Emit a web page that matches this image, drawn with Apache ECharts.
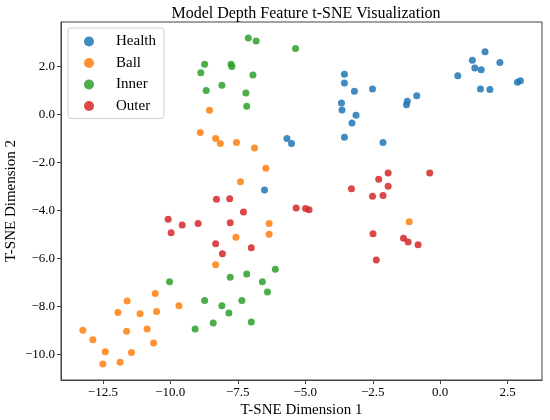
<!doctype html>
<html>
<head>
<meta charset="UTF-8">
<title>t-SNE</title>
<script src="https://cdn.jsdelivr.net/npm/echarts@6/dist/echarts.min.js"></script>
<style>
  html, body { margin: 0; padding: 0; background: #fff; }
  #main { width: 550px; height: 420px; }
</style>
</head>
<body>
<div id="main"></div>
<script>
// points, [dim1, dim2]
var health = [
  [-5.68, -1.00], [-5.51, -1.21], [-6.51, -3.15],
  [-3.55, 1.68], [-3.55, 1.32], [-3.18, 0.97], [-2.51, 1.07], [-3.66, 0.48],
  [-3.64, 0.19], [-3.12, -0.03], [-3.27, -0.35], [-3.55, -0.95], [-2.12, -1.17],
  [-1.22, 0.55], [-1.25, 0.41], [-0.87, 0.78], [0.65, 1.62], [1.19, 2.27],
  [1.66, 2.62], [1.28, 1.94], [1.52, 1.87], [2.21, 2.17], [1.49, 1.07],
  [1.84, 1.04], [2.86, 1.35], [2.97, 1.41]
];
var ball = [
  [-8.55, 0.18], [-8.89, -0.75], [-8.32, -1.00], [-8.15, -1.21], [-7.55, -1.17],
  [-6.88, -1.39], [-6.46, -2.24], [-7.40, -2.80], [-6.34, -4.54], [-6.34, -4.99],
  [-7.57, -5.12], [-8.32, -6.26], [-1.15, -4.47],
  [-10.56, -7.46], [-11.60, -7.78], [-11.94, -8.26], [-11.12, -8.31], [-10.51, -8.21],
  [-9.68, -7.97], [-13.24, -9.00], [-11.62, -9.04], [-10.86, -8.94], [-12.87, -9.39],
  [-12.41, -9.89], [-11.44, -9.92], [-10.62, -9.53], [-12.50, -10.40], [-11.86, -10.33]
];
var inner = [
  [-7.11, 3.19], [-6.82, 3.07], [-5.36, 2.75], [-8.73, 2.10], [-7.75, 2.10],
  [-7.72, 2.00], [-8.87, 1.74], [-6.94, 1.65], [-8.09, 1.22], [-8.67, 1.00],
  [-7.20, 0.90], [-7.17, 0.35],
  [-10.03, -6.97], [-9.08, -8.94],
  [-6.11, -6.45], [-7.17, -6.65], [-7.78, -6.78], [-6.59, -6.97], [-6.40, -7.40],
  [-8.73, -7.75], [-7.35, -7.75], [-8.09, -7.97], [-7.83, -8.28], [-8.41, -8.69],
  [-7.00, -8.65]
];
var outer = [
  [-8.29, -3.53], [-7.80, -3.51], [-10.08, -4.37], [-9.56, -4.61], [-9.97, -4.93],
  [-8.97, -4.54], [-7.29, -4.06], [-5.34, -3.90], [-4.99, -3.92], [-4.86, -3.97],
  [-7.78, -4.51], [-8.32, -5.39], [-8.07, -5.80], [-7.00, -5.55],
  [-1.93, -2.44], [-0.39, -2.44], [-2.28, -2.70], [-1.93, -2.99], [-3.29, -3.09],
  [-2.51, -3.41], [-2.12, -3.38], [-2.49, -4.97], [-1.36, -5.16], [-1.19, -5.32],
  [-0.82, -5.43], [-2.37, -6.07]
];
var classNames = ['Health', 'Ball', 'Inner', 'Outer'];
var classColors = ['#1f77b4', '#ff7f0e', '#2ca02c', '#d62728'];
var xTicks = [-12.5, -10.0, -7.5, -5.0, -2.5, 0.0, 2.5];
var yTicks = [-10.0, -8.0, -6.0, -4.0, -2.0, 0.0, 2.0];

var font = '"Liberation Serif", "Times New Roman", serif';
function fmt(v) {
  return v.toFixed(1).replace('-', '\u2212');
}

var chart = echarts.init(document.getElementById('main'));
var groups = [health, ball, inner, outer];
var series = [];
for (var i = 0; i < groups.length; i++) {
  series.push({
    name: classNames[i],
    type: 'scatter',
    data: groups[i],
    symbolSize: 7,
    itemStyle: { color: classColors[i], opacity: 0.85 }
  });
}

var option = {
  animation: false,
  color: classColors,
  title: {
    text: 'Model Depth Feature t-SNE Visualization',
    left: 301,
    top: 1,
    textAlign: 'center',
    textStyle: { fontFamily: font, fontSize: 16, fontWeight: 'normal', color: '#000' }
  },
  legend: {
    orient: 'vertical',
    left: 68,
    top: 28,
    padding: [6, 8, 5, 16],
    itemGap: 6.5,
    itemWidth: 10,
    itemHeight: 10,
    borderColor: '#d0d0d0',
    borderWidth: 1,
    borderRadius: 3,
    icon: 'circle',
    data: classNames,
    textStyle: { fontFamily: font, fontSize: 15, color: '#000', padding: [0, 0, 0, 17] }
  },
  grid: {
    left: 61, right: 8, top: 22, bottom: 40,
    outerBoundsMode: 'none',
    show: true, borderColor: '#444', borderWidth: 1
  },
  xAxis: {
    type: 'value',
    min: -14.05,
    max: 3.77,
    name: 'T-SNE Dimension 1',
    nameLocation: 'middle',
    nameGap: 23,
    nameMoveOverlap: false,
    nameTextStyle: { fontFamily: font, fontSize: 15, color: '#000' },
    axisLine: { show: true, onZero: false, lineStyle: { color: '#444' } },
    axisTick: { show: true, length: 4, customValues: xTicks, lineStyle: { color: '#444' } },
    axisLabel: { customValues: xTicks, formatter: fmt, fontFamily: font, fontSize: 13, color: '#000', margin: 6 },
    splitLine: { show: false }
  },
  yAxis: {
    type: 'value',
    min: -11.07,
    max: 3.86,
    name: 'T-SNE Dimension 2',
    nameLocation: 'middle',
    nameGap: 42,
    nameMoveOverlap: false,
    nameTextStyle: { fontFamily: font, fontSize: 15, color: '#000' },
    axisLine: { show: true, onZero: false, lineStyle: { color: '#444' } },
    axisTick: { show: true, length: 4, customValues: yTicks, lineStyle: { color: '#444' } },
    axisLabel: { customValues: yTicks, formatter: fmt, fontFamily: font, fontSize: 13, color: '#000', margin: 6 },
    splitLine: { show: false }
  },
  series: series
};
chart.setOption(option);
</script>
</body>
</html>
